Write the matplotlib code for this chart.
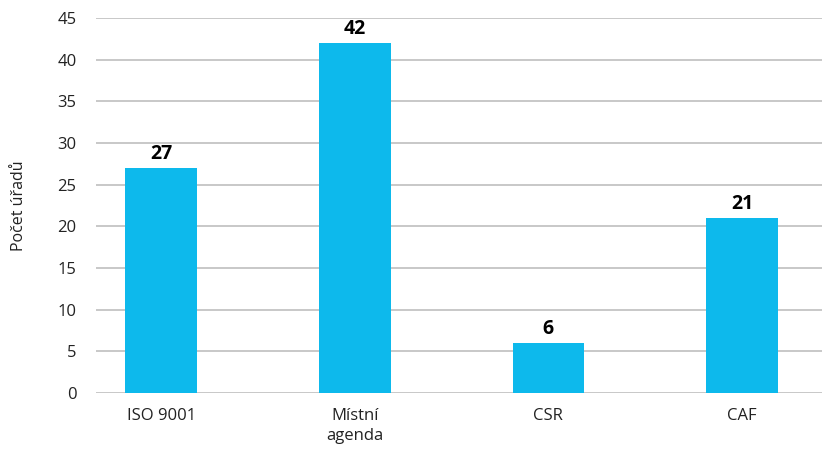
import matplotlib
matplotlib.use("Agg")
import matplotlib.pyplot as plt

categories = ["ISO 9001", "Místní\nagenda", "CSR", "CAF"]
values = [27, 42, 6, 21]
y_ticks = [0, 5, 10, 15, 20, 25, 30, 35, 40, 45]

plt.rcParams['font.family'] = ['Open Sans', 'DejaVu Sans']

fig = plt.figure(figsize=(8.22, 4.51), dpi=100)
ax = fig.add_axes([96 / 822, 1 - 393 / 451, 1 - 96 / 822, (393 - 18) / 451])

x = list(range(len(categories)))
bars = ax.bar(x, values, width=0.37, color="#0DB9EC", zorder=3)
for xi, v in zip(x, values):
    ax.text(xi, v + 0.5, str(v), ha="center", va="bottom",
            fontsize=14, fontweight="bold", color="black")

ax.set_xlim(-0.336, 3.413)
ax.set_ylim(0, 45)
ax.set_yticks(y_ticks)
ax.set_xticks(x)
ax.set_xticklabels(categories, fontsize=12, color="#222222", linespacing=1.35)
ax.tick_params(axis="y", labelsize=12, colors="#222222", length=0, pad=14)
ax.tick_params(axis="x", length=0, pad=11)
ax.grid(axis="y", color="#BFBFBF", linewidth=1.2, zorder=0)
for s in ax.spines.values():
    s.set_visible(False)
ax.set_ylabel("Počet úřadů", fontsize=11.5, color="#222222", labelpad=22)

fig.savefig("out.png", dpi=100)
